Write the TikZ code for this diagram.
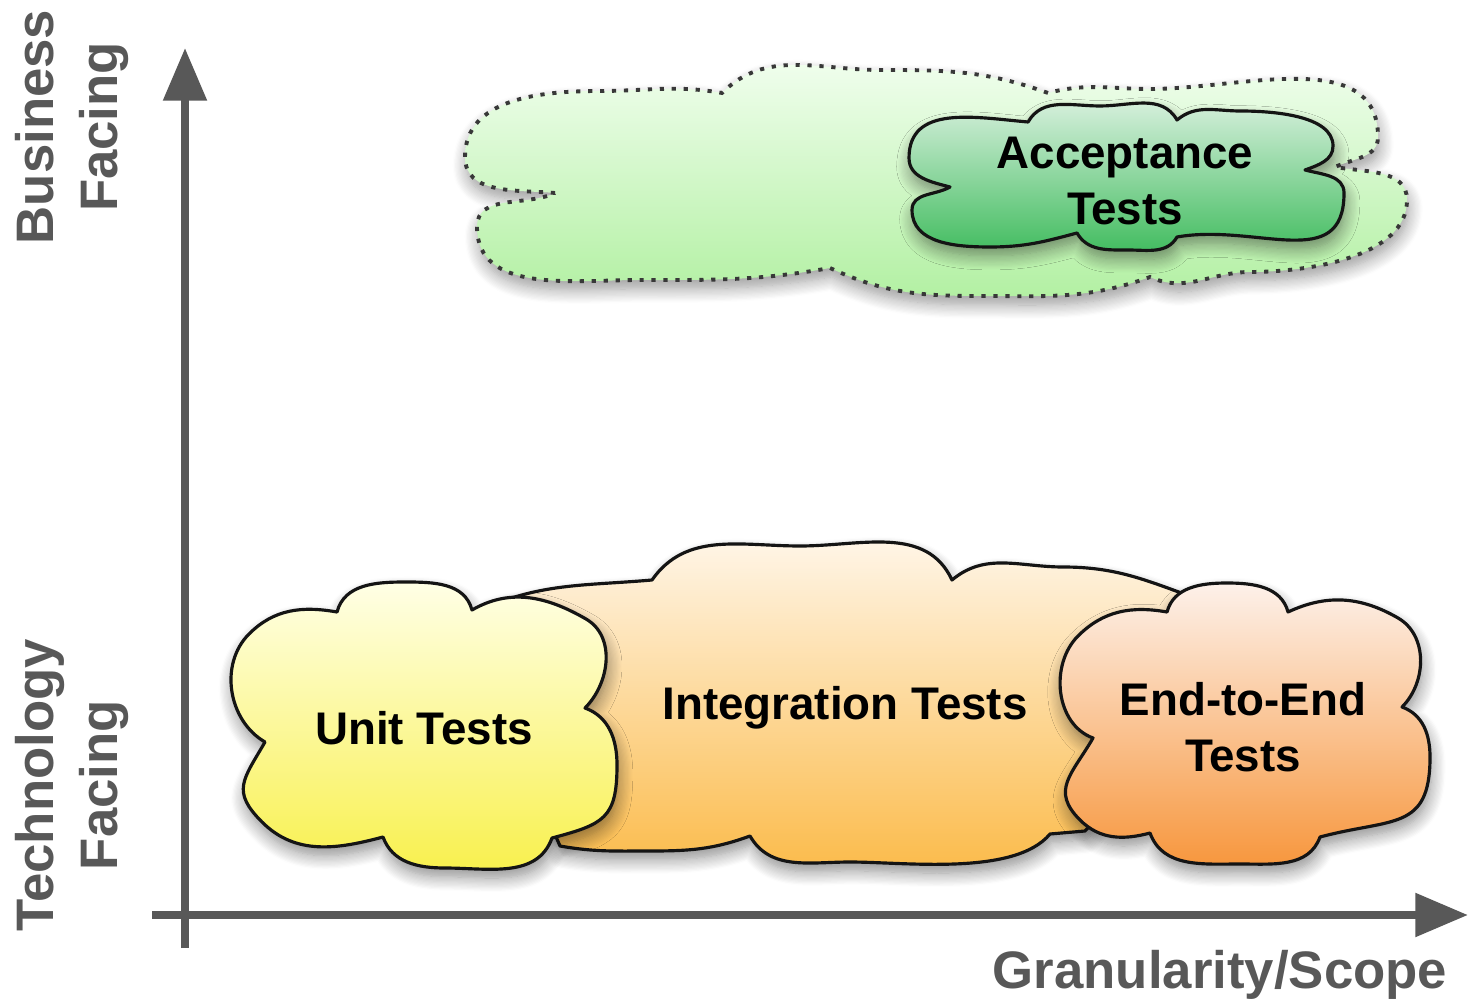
\documentclass[tikz,border=0pt]{standalone}
\usepackage{fontspec}
\setmainfont{Liberation Sans}
\usetikzlibrary{arrows.meta,shadows.blur}

\definecolor{axisgray}{HTML}{585858}
\definecolor{unittop}{HTML}{FFFFE6}
\definecolor{unitbot}{HTML}{F8F04A}
\definecolor{inttop}{HTML}{FFF8EE}
\definecolor{intbot}{HTML}{FBBA48}
\definecolor{etetop}{HTML}{FDF1EA}
\definecolor{etebot}{HTML}{F7963C}
\definecolor{acctop}{HTML}{DDF2E2}
\definecolor{accbot}{HTML}{2DB54E}
\definecolor{bustop}{HTML}{F4FFF2}
\definecolor{busbot}{HTML}{B2F0A2}

\begin{document}
\begin{tikzpicture}[x=0.01cm,y=0.01cm,
  cloudshape/.style={draw=black!92,line width=0.9pt,line join=round,
    blur shadow={shadow xshift=0.5pt,shadow yshift=-2.5pt,shadow blur radius=4pt,shadow blur steps=12,shadow opacity=45}},
  dotcloud/.style={draw=black!78,line width=1.1pt,dash pattern=on 1.2pt off 2.2pt,
    blur shadow={shadow xshift=0.5pt,shadow yshift=-2.5pt,shadow blur radius=4pt,shadow blur steps=12,shadow opacity=40}},
  axisline/.style={draw=axisgray,line width=2.3pt,-{Triangle[length=15pt,width=12pt]}},
  axistext/.style={text=axisgray,font=\bfseries\fontsize{15}{18}\selectfont,align=center},
  cloudtext/.style={font=\bfseries\fontsize{13}{16}\selectfont,align=center}]
\useasboundingbox (0,0) rectangle (1474,-1007);

% business facing cloud
\path[dotcloud,top color=bustop,bottom color=busbot]
  (555,-193) to[out=175,in=-90] (465,-157) to[out=90,in=180] (600,-91) to[out=0,in=170] (722,-93)
  to[out=45,in=180] (880,-70) to[out=0,in=160] (1048,-93)
  to[out=15,in=180] (1150,-89) to[out=0,in=90] (1378,-137) to[out=-90,in=25] (1335,-167)
  to[out=-10,in=90] (1407,-200) to[out=-90,in=0,looseness=0.85] (1250,-272) to[out=180,in=-25] (1150,-277)
  to[out=-160,in=0] (980,-296) to[out=180,in=-25] (830,-268)
  to[out=-170,in=0] (640,-280) to[out=180,in=-90] (477,-227) to[out=90,in=-155] (555,-193) -- cycle;

% acceptance
\path[cloudshape,top color=acctop,bottom color=accbot]
  (950,-187) to[out=165,in=-90] (909,-158) to[out=90,in=175,looseness=1.1] (1028,-122)
  to[out=60,in=180] (1100,-106) to[out=0,in=120] (1177,-120)
  to[out=40,in=180] (1240,-111) to[out=0,in=90,looseness=0.8] (1333,-146) to[out=-90,in=20] (1305,-170)
  to[out=-15,in=90] (1344,-193) to[out=-90,in=10,looseness=1.2] (1177,-237)
  to[out=-120,in=0] (1128,-250) to[out=180,in=-60] (1077,-233)
  to[out=195,in=0] (990,-247) to[out=180,in=-90] (912,-210) to[out=90,in=-150] (950,-187) -- cycle;

% integration
\path[cloudshape,top color=inttop,bottom color=intbot]
  (476,-612) to[out=25,in=185] (652,-580)
  to[out=55,in=180] (800,-546) to[out=0,in=115] (952,-580)
  to[out=40,in=180] (1063,-567) to[out=0,in=160] (1195,-598)
  -- (1150,-760) -- (1085,-831) -- (1050,-834)
  to[out=-130,in=0,looseness=0.7] (850,-862) to[out=180,in=-60] (750,-836)
  to[out=-160,in=0] (650,-851) to[out=180,in=-10] (560,-846)
  -- (540,-800) -- (520,-700) -- cycle;

% unit
\path[cloudshape,top color=unittop,bottom color=unitbot]
  (265,-742) to[out=150,in=-135] (249,-634) to[out=45,in=170] (337,-612)
  to[out=75,in=180] (405,-582) to[out=0,in=105] (472,-610)
  to[out=30,in=150] (586,-619) to[out=-30,in=45] (585,-708)
  to[out=-20,in=90] (617,-765) to[out=-90,in=15,looseness=1.4] (552,-838)
  to[out=-110,in=0] (445,-868) to[out=180,in=-70] (383,-837)
  to[out=195,in=-45] (262,-822) to[out=135,in=-120,looseness=1.4] (265,-742) -- cycle;

% end to end
\path[cloudshape,top color=etetop,bottom color=etebot]
  (1093,-738) to[out=160,in=-135] (1078,-636) to[out=45,in=170] (1167,-612)
  to[out=75,in=180] (1227,-583) to[out=0,in=105] (1288,-612)
  to[out=25,in=150] (1398,-618) to[out=-30,in=45] (1402,-707)
  to[out=-20,in=90] (1430,-757) to[out=-90,in=15,looseness=1.4] (1320,-837)
  to[out=-110,in=0] (1240,-864) to[out=180,in=-70] (1150,-833)
  to[out=195,in=-45] (1080,-820) to[out=135,in=-120,looseness=1.3] (1093,-738) -- cycle;

\node[cloudtext] (ut) at (424,-728) {Unit Tests};
\node[cloudtext] (it) at (845,-708) {Integration Tests};
\node[cloudtext] (et) at (1243,-727) {End-to-End\\Tests};
\node[cloudtext] (at) at (1125,-181) {Acceptance\\Tests};

% axes
\coordinate (ybot) at (185,-948);
\coordinate (ytop) at (185,-48);
\coordinate (xleft) at (152,-915);
\coordinate (xright) at (1468,-915);
\draw[axisline] (ybot) -- (ytop);
\draw[axisline] (xleft) -- (xright);

\node[axistext,rotate=90] (bf) at (72,-127) {Business\\Facing};
\node[axistext,rotate=90] (tf) at (72,-785) {Technology\\Facing};
\node[axistext] (gs) at (1220,-975) {Granularity/Scope};
\end{tikzpicture}
\end{document}
